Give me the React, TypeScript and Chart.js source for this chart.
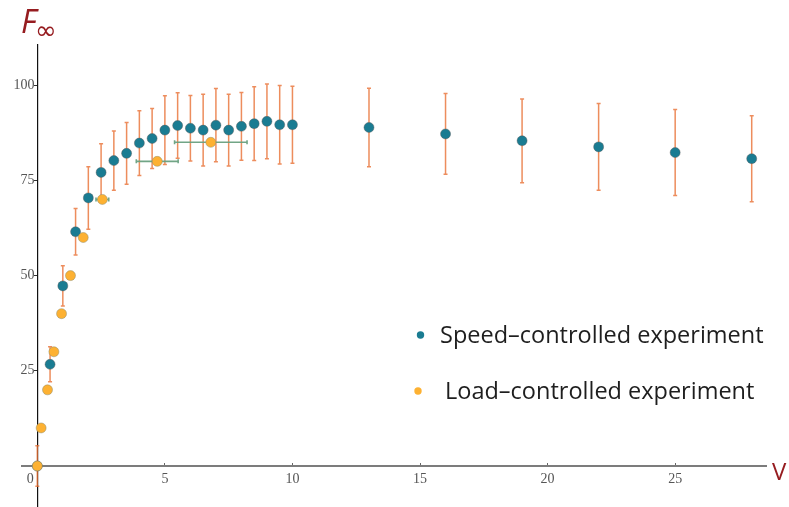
import React, { useEffect, useRef } from "react";
import { Chart, registerables } from "chart.js";

Chart.register(...registerables);

// Speed-controlled experiment
const speedV = [0, 0.5, 1, 1.5, 2, 2.5, 3, 3.5, 4, 4.5, 5, 5.5, 6, 6.5, 7, 7.5, 8, 8.5, 9, 9.5, 10, 13, 16, 19, 22, 25, 28];
const speedF = [0, 26.7, 47.3, 61.5, 70.4, 77.1, 80.2, 82.1, 84.8, 86.0, 88.2, 89.4, 88.7, 88.2, 89.5, 88.2, 89.2, 89.9, 90.5, 89.6, 89.6, 88.9, 87.2, 85.4, 83.8, 82.3, 80.7];
const speedFErr = [5.3, 4.6, 5.3, 6.1, 8.2, 7.5, 7.8, 8.1, 8.5, 7.9, 9.0, 8.6, 8.6, 9.4, 9.6, 9.4, 8.9, 9.7, 9.8, 10.3, 10.1, 10.3, 10.6, 11.0, 11.4, 11.3, 11.3];

// Load-controlled experiment
const loadV = [0, 0.15, 0.4, 0.65, 0.95, 1.3, 1.8, 2.55, 4.7, 6.8];
const loadF = [0, 10, 20, 30, 40, 50, 60, 70, 80, 85];
const loadVErr = [0, 0, 0, 0, 0, 0, 0, 0.25, 0.82, 1.42];

const xTicks = [0, 5, 10, 15, 20, 25];
const yTicks = [25, 50, 75, 100];
const legendLabels = ["Speed\u2013controlled experiment", "Load\u2013controlled experiment"];
const yAxisTitle = "F";
const yAxisSub = "\u221E";
const xAxisTitle = "V";

const BLUE = "rgb(26,124,146)";
const ORANGE = "rgb(253,177,50)";
const ERR_ORANGE = "rgba(233,112,52,0.8)";
const ERR_GREEN = "rgba(105,160,128,0.95)";
const TITLE_RED = "rgb(150,28,32)";

const errorBarPlugin = {
  id: "errorBars",
  beforeDatasetsDraw(chart: any) {
    const { ctx, scales } = chart;
    const xs = scales.x;
    const ys = scales.y;
    ctx.save();
    ctx.strokeStyle = ERR_ORANGE;
    ctx.lineWidth = 1.5;
    speedV.forEach((v, i) => {
      const px = xs.getPixelForValue(v);
      const top = ys.getPixelForValue(speedF[i] + speedFErr[i]);
      const bot = ys.getPixelForValue(speedF[i] - speedFErr[i]);
      ctx.beginPath();
      ctx.moveTo(px, top);
      ctx.lineTo(px, bot);
      ctx.moveTo(px - 2, top);
      ctx.lineTo(px + 2, top);
      ctx.moveTo(px - 2, bot);
      ctx.lineTo(px + 2, bot);
      ctx.stroke();
    });
    ctx.strokeStyle = ERR_GREEN;
    ctx.lineWidth = 1.6;
    loadV.forEach((v, i) => {
      if (!loadVErr[i]) return;
      const py = ys.getPixelForValue(loadF[i]);
      const l = xs.getPixelForValue(v - loadVErr[i]);
      const r = xs.getPixelForValue(v + loadVErr[i]);
      ctx.beginPath();
      ctx.moveTo(l, py);
      ctx.lineTo(r, py);
      ctx.moveTo(l, py - 2);
      ctx.lineTo(l, py + 2);
      ctx.moveTo(r, py - 2);
      ctx.lineTo(r, py + 2);
      ctx.stroke();
    });
    ctx.restore();
  },
};

const decorPlugin = {
  id: "decor",
  afterDraw(chart: any) {
    const { ctx } = chart;
    ctx.save();
    ctx.fillStyle = TITLE_RED;
    ctx.textBaseline = "alphabetic";
    ctx.textAlign = "left";
    ctx.font = "italic 32px 'Open Sans'";
    ctx.fillText(yAxisTitle, 21, 33);
    ctx.font = "26px 'DejaVu Sans'";
    ctx.fillText(yAxisSub, 35, 39);
    ctx.font = "24px 'Open Sans'";
    ctx.fillText(xAxisTitle, 772, 480);
    const colors = [BLUE, ORANGE];
    const rows = [
      { dx: 420.5, tx: 440, y: 336 },
      { dx: 418, tx: 445, y: 392 },
    ];
    ctx.font = "23.5px 'Open Sans'";
    ctx.textBaseline = "middle";
    legendLabels.forEach((lab, i) => {
      ctx.fillStyle = colors[i];
      ctx.beginPath();
      ctx.arc(rows[i].dx, rows[i].y - 1, 3.7, 0, Math.PI * 2);
      ctx.fill();
      ctx.fillStyle = "#1e1e1e";
      ctx.fillText(lab, rows[i].tx, rows[i].y);
    });
    ctx.restore();
  },
};

export default function App() {
  const ref = useRef<HTMLCanvasElement | null>(null);
  useEffect(() => {
    if (!ref.current) return;
    const chart = new Chart(ref.current, {
      type: "scatter",
      data: {
        datasets: [
          {
            label: legendLabels[0],
            data: speedV.map((v, i) => ({ x: v, y: speedF[i] })),
            backgroundColor: BLUE,
            borderColor: "rgba(90,90,90,0.55)",
            borderWidth: 0.8,
            pointRadius: 5,
            order: 1,
          },
          {
            label: legendLabels[1],
            data: loadV.map((v, i) => ({ x: v, y: loadF[i] })),
            backgroundColor: ORANGE,
            borderColor: "rgba(140,140,110,0.6)",
            borderWidth: 0.8,
            pointRadius: 5,
            order: 0,
          },
        ],
      },
      options: {
        responsive: false,
        animation: false,
        layout: { padding: { left: 22, right: 23, top: 45, bottom: 0 } },
        plugins: { legend: { display: false }, tooltip: { enabled: false } },
        scales: {
          x: {
            type: "linear",
            min: -0.6,
            max: 28.56,
            position: { y: 0 } as any,
            afterBuildTicks: (s: any) => {
              s.ticks = xTicks.map((v) => ({ value: v }));
            },
            afterFit: (s: any) => {
              s.paddingLeft = 0;
              s.paddingRight = 0;
              s.paddingTop = 0;
              s.paddingBottom = 0;
            },
            ticks: {
              autoSkip: false,
              maxRotation: 0,
              padding: 9,
              color: "#555",
              font: { family: "'Liberation Serif'", size: 14 },
              callback: (v: any) => (v === 0 ? "0\u2002\u2002" : String(v)),
            },
            grid: { drawOnChartArea: false, drawTicks: true, tickLength: -4, tickColor: "#666", tickWidth: 1 },
            border: { display: true, color: "#7c7c7c", width: 2 },
          },
          y: {
            type: "linear",
            min: -10.55,
            max: 110.55,
            position: { x: 0 } as any,
            afterBuildTicks: (s: any) => {
              s.ticks = yTicks.map((v) => ({ value: v }));
            },
            afterFit: (s: any) => {
              s.paddingLeft = 0;
              s.paddingRight = 0;
              s.paddingTop = 0;
              s.paddingBottom = 0;
            },
            ticks: {
              padding: 4,
              color: "#555",
              font: { family: "'Liberation Serif'", size: 14 },
              callback: (v: any) => String(v) + "\u2009",
            },
            grid: { drawOnChartArea: false, drawTicks: true, tickLength: 3, tickColor: "#333", tickWidth: 1 },
            border: { display: true, color: "#111", width: 1.2 },
          },
        },
      },
      plugins: [errorBarPlugin, decorPlugin],
    });
    return () => chart.destroy();
  }, []);
  return (
    <div style={{ position: "fixed", left: 0, top: 0, width: 789, height: 507, overflow: "hidden", background: "#fff" }}>
      <canvas ref={ref} width={789} height={512} style={{ display: "block" }} />
    </div>
  );
}
